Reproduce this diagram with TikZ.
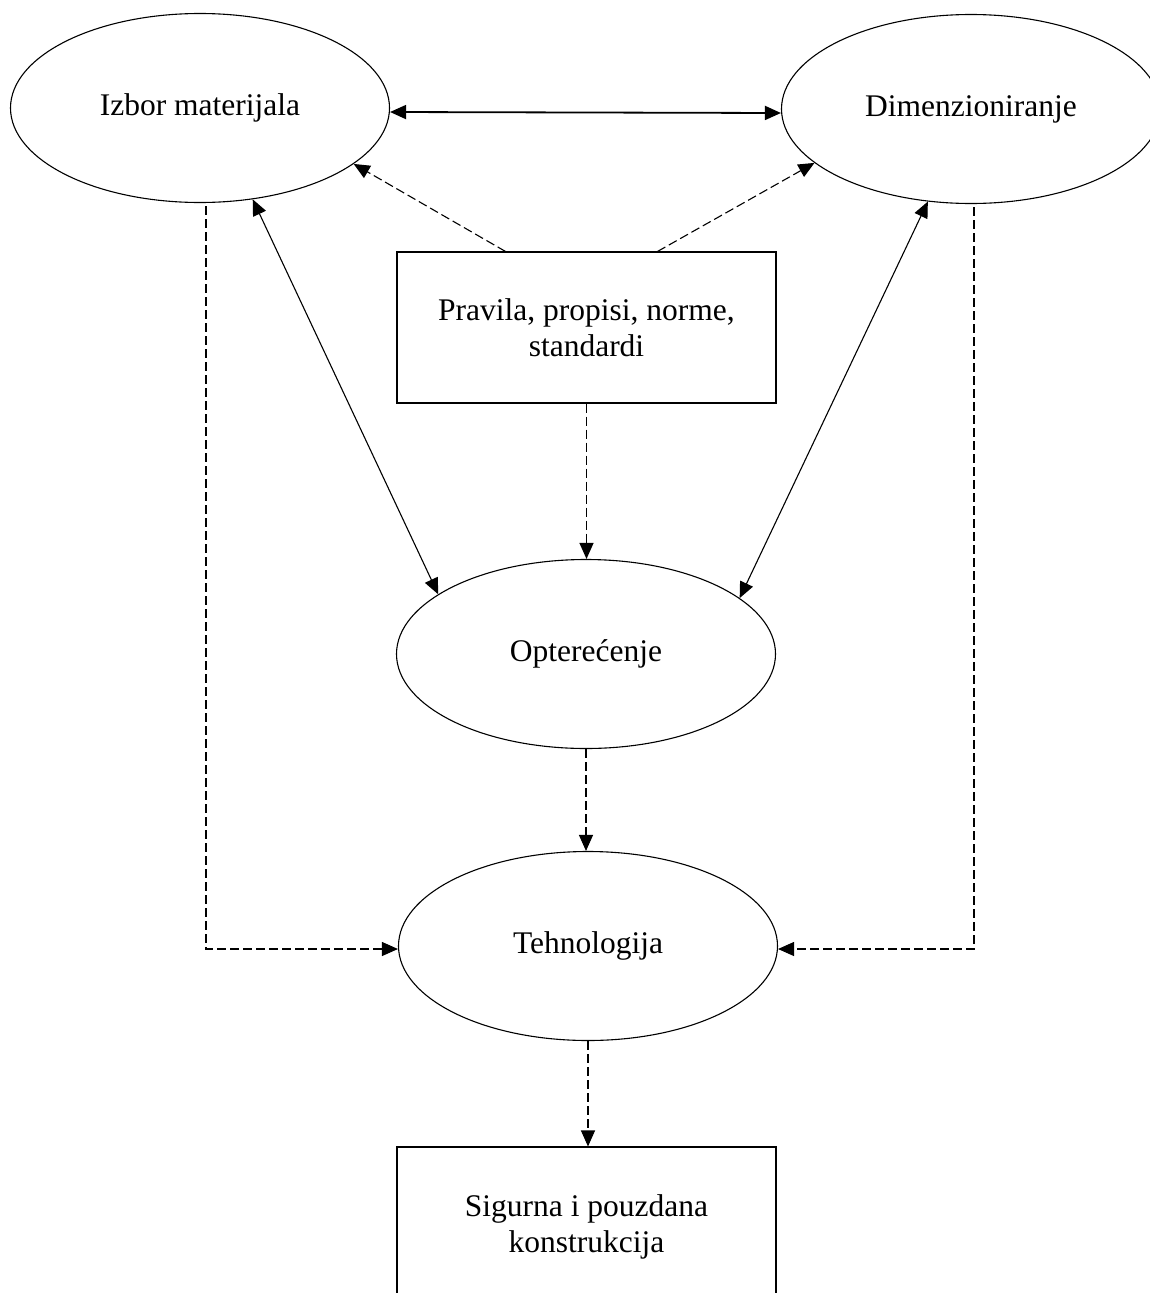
\documentclass[tikz,border=0pt]{standalone}
\usepackage{fontspec}
\setmainfont{Liberation Serif}
\usepackage{tikz}
\usetikzlibrary{shapes.geometric}
\usetikzlibrary{arrows.meta}

\begin{document}
\begin{tikzpicture}[x=1pt,y=-1pt,
  every node/.style={font=\fontsize{31.5}{36.5}\selectfont},
  elipsa/.style={draw, ellipse, line width=1.1pt, minimum width=379pt, minimum height=189pt, inner sep=0pt},
  kutija/.style={draw, rectangle, line width=1.1pt, minimum width=379pt, minimum height=151pt, align=center, inner sep=0pt},
  puna/.style={line width=1.1pt, {Triangle[length=16pt,width=14pt]}-{Triangle[length=16pt,width=14pt]}},
  isprekidana/.style={line width=1.1pt, dash pattern=on 9pt off 4pt, -{Triangle[length=16pt,width=14pt]}}]

\useasboundingbox (0,0) rectangle (1149,1293);

\node[elipsa] (izbor) at (200,108) {Izbor materijala};
\node[elipsa] (dimenz) at (971,109) {Dimenzioniranje};
\node[kutija] (pravila) at (586.5,327.5) {Pravila, propisi, norme,\\standardi};
\node[elipsa] (opter) at (586,654) {Optere\'cenje};
\node[elipsa] (tehno) at (588,946) {Tehnologija};
\node[kutija, minimum height=160pt] (sigurna) at (586.5,1227) {Sigurna i pouzdana\\konstrukcija};

\draw[puna, line width=1.8pt] ([yshift=-4pt]izbor.east) -- ([yshift=-4pt]dimenz.west);
\draw[isprekidana] ([xshift=-81pt]pravila.north) -- (izbor.-20);
\draw[isprekidana] ([xshift=71pt]pravila.north) -- (dimenz.-161);
\draw[puna] (izbor.-60) -- (opter.158);
\draw[puna] (dimenz.-115) -- (opter.20);
\draw[isprekidana] (pravila.south) -- (pravila.south |- opter.north);
\draw[isprekidana] (opter.south) -- (opter.south |- tehno.north);
\draw[isprekidana] (tehno.south) -- (tehno.south |- sigurna.north);
\draw[isprekidana] ([xshift=6pt,yshift=-3pt]izbor.south) |- ([yshift=-3pt]tehno.west);
\draw[isprekidana] ([xshift=3pt,yshift=-3pt]dimenz.south) |- ([yshift=-3pt]tehno.east);
\end{tikzpicture}
\end{document}
